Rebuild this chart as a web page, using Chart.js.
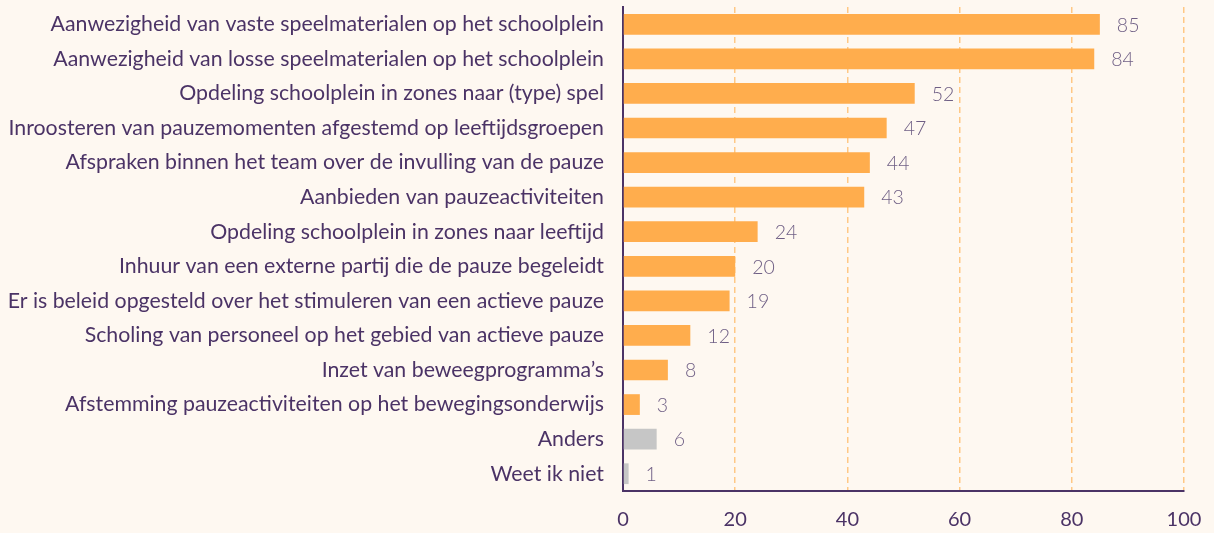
<!DOCTYPE html>
<html>
<head>
<meta charset="utf-8">
<script src="https://cdn.jsdelivr.net/npm/chart.js@4/dist/chart.umd.min.js"></script>
<style>
  html, body { margin: 0; padding: 0; background: #fef8f1; }
  #wrap { width: 1214px; height: 533px; position: relative; }
</style>
</head>
<body>
<div id="wrap"><canvas id="chart"></canvas></div>
<script>
// data
const categories = [
  "Aanwezigheid van vaste speelmaterialen op het schoolplein",
  "Aanwezigheid van losse speelmaterialen op het schoolplein",
  "Opdeling schoolplein in zones naar (type) spel",
  "Inroosteren van pauzemomenten afgestemd op leeftijdsgroepen",
  "Afspraken binnen het team over de invulling van de pauze",
  "Aanbieden van pauzeactiviteiten",
  "Opdeling schoolplein in zones naar leeftijd",
  "Inhuur van een externe partij die de pauze begeleidt",
  "Er is beleid opgesteld over het stimuleren van een actieve pauze",
  "Scholing van personeel op het gebied van actieve pauze",
  "Inzet van beweegprogramma’s",
  "Afstemming pauzeactiviteiten op het bewegingsonderwijs",
  "Anders",
  "Weet ik niet"
];
const values = [85, 84, 52, 47, 44, 43, 24, 20, 19, 12, 8, 3, 6, 1];
const otherCategories = ["Anders", "Weet ik niet"];
const xTicks = [0, 20, 40, 60, 80, 100];

const PURPLE = "#4b3366";
const ORANGE = "#ffad4d";
const GREY = "#c6c6c6";

// draws the number right of each bar
const valueLabels = {
  id: "valueLabels",
  afterDatasetsDraw(chart) {
    const ctx = chart.ctx;
    const meta = chart.getDatasetMeta(0);
    ctx.save();
    ctx.font = "300 19.5px Lato";
    ctx.fillStyle = "#6f5f85";
    ctx.textAlign = "left";
    ctx.textBaseline = "middle";
    meta.data.forEach((bar, i) => {
      ctx.fillText(String(chart.data.datasets[0].data[i]), bar.x + 17, bar.y + 1);
    });
    ctx.restore();
  }
};

new Chart(document.getElementById("chart"), {
  type: "bar",
  data: {
    labels: categories,
    datasets: [{
      data: values,
      backgroundColor: categories.map((c) => otherCategories.includes(c) ? GREY : ORANGE),
      barPercentage: 0.6,
      categoryPercentage: 1.0
    }]
  },
  options: {
    indexAxis: "y",
    responsive: true,
    maintainAspectRatio: false,
    animation: false,
    layout: { padding: { top: 7, right: 30, bottom: 0, left: 0 } },
    plugins: {
      legend: { display: false },
      tooltip: { enabled: false }
    },
    scales: {
      x: {
        min: 0,
        max: 100,
        afterBuildTicks(scale) {
          scale.ticks = xTicks.map((v) => ({ value: v }));
        },
        afterFit(scale) {
          scale.height = 42;
          scale.paddingLeft = 0;
          scale.paddingRight = 0;
        },
        grid: {
          drawTicks: false,
          color: (ctx) => ctx.tick && ctx.tick.value === 0 ? "rgba(0,0,0,0)" : "#ffc885",
          lineWidth: 1.5
        },
        border: { color: PURPLE, width: 2, dash: [6, 4] },
        ticks: {
          padding: 17,
          color: PURPLE,
          font: { family: "Lato", size: 20 }
        }
      },
      y: {
        // labels are wide, keep the axis where the picture has it
        afterFit(scale) {
          scale.width = 623;
          scale.paddingTop = 0;
          scale.paddingBottom = 0;
        },
        grid: { display: false, drawTicks: false },
        border: { color: PURPLE, width: 2 },
        ticks: {
          padding: 19,
          color: PURPLE,
          font: { family: "Lato", size: 21.3 }
        }
      }
    }
  },
  plugins: [valueLabels]
});
</script>
</body>
</html>
